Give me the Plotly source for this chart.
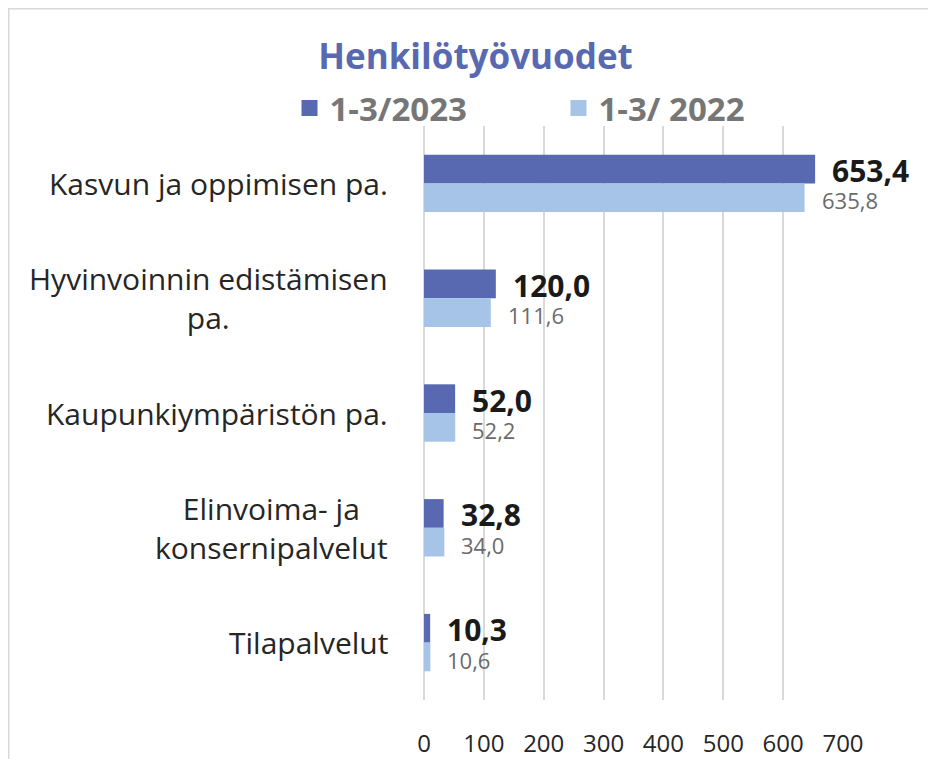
import plotly.graph_objects as go

categories = [
    "Kasvun ja oppimisen pa.",
    "Hyvinvoinnin edistämisen<br>pa.",
    "Kaupunkiympäristön pa.",
    "Elinvoima- ja<br>konsernipalvelut",
    "Tilapalvelut",
]
series_2023_name = "1-3/2023"
series_2022_name = "1-3/ 2022"
values_2023 = [653.4, 120.0, 52.0, 32.8, 10.3]
values_2022 = [635.8, 111.6, 52.2, 34.0, 10.6]
x_ticks = [0, 100, 200, 300, 400, 500, 600, 700]

DARK = "#5869b2"
LIGHT = "#a6c4e8"
FONT = "Open Sans"

# page body adds an 8px offset; figure sized to fit the window
OFF = 8
W, H = 936 - OFF, 759 - OFF
ML, MR, MT, MB = 10, 10, 10, 59
PW, PH = W - ML - MR, H - MT - MB
# plot area in figure pixels
PX0, PX1, PY0, PY1 = 424 - OFF, 843 - OFF, 126 - OFF, 700 - OFF
xdom = [(PX0 - ML) / PW, (PX1 - ML) / PW]
ydom = [(H - MB - PY1) / PH, (H - MB - PY0) / PH]


def fi(v):
    return f"{v:.1f}".replace(".", ",")


fig = go.Figure()
fig.add_trace(go.Bar(
    y=categories, x=values_2023, name=series_2023_name, orientation="h",
    marker=dict(color=DARK, line=dict(width=0)), showlegend=False,
    legendgroup="a",
))
fig.add_trace(go.Bar(
    y=categories, x=values_2022, name=series_2022_name, orientation="h",
    marker=dict(color=LIGHT, line=dict(width=0)), showlegend=False,
    legendgroup="b",
))
# legend entries with larger square symbols
for name, col, grp in [(series_2023_name, DARK, "a"), (series_2022_name, LIGHT, "b")]:
    fig.add_trace(go.Scatter(
        x=[None], y=[None], mode="markers", name=name, legendgroup=grp,
        marker=dict(symbol="square", size=22, color=col),
        hoverinfo="skip",
    ))

annotations = []
for cat, v in zip(categories, values_2023):
    annotations.append(dict(
        x=v, y=cat, xref="x", yref="y", text=f"<b>{fi(v)}</b>",
        showarrow=False, xanchor="left", yanchor="middle", xshift=15, yshift=13,
        font=dict(family=FONT, size=30, color="#1a1a1a"),
    ))
for cat, v in zip(categories, values_2022):
    annotations.append(dict(
        x=v, y=cat, xref="x", yref="y", text=fi(v),
        showarrow=False, xanchor="left", yanchor="middle", xshift=15, yshift=-17,
        font=dict(family=FONT, size=22, color="#6b6b6b"),
    ))
for cat in categories:
    annotations.append(dict(
        x=xdom[0], y=cat, xref="paper", yref="y", text=cat, align="center",
        showarrow=False, xanchor="right", yanchor="middle", xshift=-34,
        font=dict(family=FONT, size=30, color="#262626"),
    ))

fig.update_layout(
    width=W, height=H,
    margin=dict(l=ML, r=MR, t=MT, b=MB, autoexpand=False),
    paper_bgcolor="white", plot_bgcolor="white",
    barmode="group", bargap=0.5, bargroupgap=0,
    title=dict(
        text="<b>Henkilötyövuodet</b>", x=(475.5 - OFF) / W, xref="container",
        xanchor="center", y=1 - 49 / H, yref="container", yanchor="middle",
        font=dict(family=FONT, size=35, color=DARK),
    ),
    legend=dict(
        orientation="h", xref="paper", yref="paper",
        x=(281.5 - ML) / PW, xanchor="left",
        y=1 - (108 - OFF - MT) / PH, yanchor="middle",
        font=dict(family=FONT, size=33, color="#767676", weight="bold"),
        entrywidth=224, itemwidth=30, bgcolor="rgba(0,0,0,0)",
    ),
    xaxis=dict(
        domain=xdom,
        range=[0, 700], tickvals=x_ticks, ticktext=[str(t) for t in x_ticks],
        showgrid=True, gridcolor="#d9d9d9", gridwidth=1.5,
        zeroline=True, zerolinecolor="#d9d9d9", zerolinewidth=1.5,
        showline=False, ticks="", ticklabelstandoff=27,
        tickfont=dict(family=FONT, size=24, color="#262626"),
        fixedrange=True,
    ),
    yaxis=dict(
        domain=ydom,
        categoryorder="array", categoryarray=categories,
        autorange="reversed", showticklabels=False, showgrid=False,
        zeroline=False, showline=False, ticks="", fixedrange=True,
    ),
    annotations=annotations,
    shapes=[dict(
        type="rect", xref="paper", yref="paper",
        x0=(0.75 - ML) / PW, x1=1.1, y0=-0.3, y1=1 + (MT - 0.75) / PH,
        line=dict(color="#d9d9d9", width=1.5), fillcolor="rgba(0,0,0,0)",
        layer="below",
    )],
)

fig.write_html("out.html")
